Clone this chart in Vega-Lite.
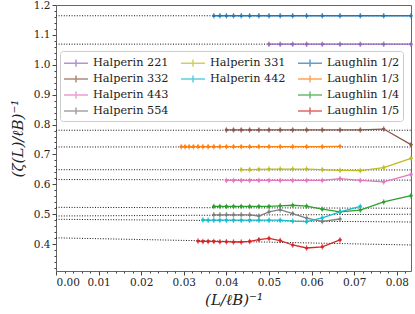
{
  "$schema": "https://vega.github.io/schema/vega-lite/v6.json",
  "width": 355,
  "height": 266,
  "autosize": {"type": "none"},
  "padding": {"left": 56, "top": 5, "right": 4, "bottom": 43},
  "config": {
    "font": "DejaVu Serif",
    "view": {"stroke": "#666", "strokeWidth": 1},
    "axis": {"domain": false, "grid": false, "tickColor": "#444", "labelColor": "#222", "labelFontSize": 10.5, "titleFontSize": 15, "titleFontWeight": "normal", "titleColor": "#222", "labelFont": "DejaVu Serif", "titleFont": "DejaVu Serif"}
  },
  "datasets": {
    "fits": [
      {"s": "Laughlin 1/2", "x": 0, "y": 1.164}, {"s": "Laughlin 1/2", "x": 0.08333, "y": 1.164},
      {"s": "Halperin 221", "x": 0, "y": 1.069}, {"s": "Halperin 221", "x": 0.08333, "y": 1.069},
      {"s": "Halperin 332", "x": 0, "y": 0.781}, {"s": "Halperin 332", "x": 0.08333, "y": 0.781},
      {"s": "Laughlin 1/3", "x": 0, "y": 0.725}, {"s": "Laughlin 1/3", "x": 0.08333, "y": 0.725},
      {"s": "Halperin 331", "x": 0, "y": 0.649}, {"s": "Halperin 331", "x": 0.08333, "y": 0.648},
      {"s": "Halperin 443", "x": 0, "y": 0.616}, {"s": "Halperin 443", "x": 0.08333, "y": 0.614},
      {"s": "Laughlin 1/4", "x": 0, "y": 0.523}, {"s": "Laughlin 1/4", "x": 0.08333, "y": 0.52},
      {"s": "Halperin 554", "x": 0, "y": 0.494}, {"s": "Halperin 554", "x": 0.08333, "y": 0.5},
      {"s": "Halperin 442", "x": 0, "y": 0.483}, {"s": "Halperin 442", "x": 0.08333, "y": 0.474},
      {"s": "Laughlin 1/5", "x": 0, "y": 0.421}, {"s": "Laughlin 1/5", "x": 0.08333, "y": 0.397}
    ],
    "pts": [
      {"s": "Laughlin 1/2", "x": 0.08333, "y": 1.164}, {"s": "Laughlin 1/2", "x": 0.07692, "y": 1.164}, {"s": "Laughlin 1/2", "x": 0.07143, "y": 1.164}, {"s": "Laughlin 1/2", "x": 0.06667, "y": 1.164}, {"s": "Laughlin 1/2", "x": 0.0625, "y": 1.164}, {"s": "Laughlin 1/2", "x": 0.05882, "y": 1.164}, {"s": "Laughlin 1/2", "x": 0.05556, "y": 1.164}, {"s": "Laughlin 1/2", "x": 0.05263, "y": 1.164}, {"s": "Laughlin 1/2", "x": 0.05, "y": 1.164}, {"s": "Laughlin 1/2", "x": 0.04762, "y": 1.164}, {"s": "Laughlin 1/2", "x": 0.04545, "y": 1.164}, {"s": "Laughlin 1/2", "x": 0.04348, "y": 1.164}, {"s": "Laughlin 1/2", "x": 0.04167, "y": 1.164}, {"s": "Laughlin 1/2", "x": 0.04, "y": 1.164}, {"s": "Laughlin 1/2", "x": 0.03846, "y": 1.164}, {"s": "Laughlin 1/2", "x": 0.03704, "y": 1.164},
      {"s": "Halperin 221", "x": 0.08333, "y": 1.069}, {"s": "Halperin 221", "x": 0.07692, "y": 1.069}, {"s": "Halperin 221", "x": 0.07143, "y": 1.069}, {"s": "Halperin 221", "x": 0.06667, "y": 1.069}, {"s": "Halperin 221", "x": 0.0625, "y": 1.069}, {"s": "Halperin 221", "x": 0.05882, "y": 1.069}, {"s": "Halperin 221", "x": 0.05556, "y": 1.069}, {"s": "Halperin 221", "x": 0.05263, "y": 1.069}, {"s": "Halperin 221", "x": 0.05, "y": 1.069},
      {"s": "Halperin 332", "x": 0.08333, "y": 0.733}, {"s": "Halperin 332", "x": 0.07692, "y": 0.785}, {"s": "Halperin 332", "x": 0.07143, "y": 0.782}, {"s": "Halperin 332", "x": 0.06667, "y": 0.782}, {"s": "Halperin 332", "x": 0.0625, "y": 0.782}, {"s": "Halperin 332", "x": 0.05882, "y": 0.782}, {"s": "Halperin 332", "x": 0.05556, "y": 0.782}, {"s": "Halperin 332", "x": 0.05263, "y": 0.782}, {"s": "Halperin 332", "x": 0.05, "y": 0.782}, {"s": "Halperin 332", "x": 0.04762, "y": 0.782}, {"s": "Halperin 332", "x": 0.04545, "y": 0.782}, {"s": "Halperin 332", "x": 0.04348, "y": 0.782}, {"s": "Halperin 332", "x": 0.04167, "y": 0.782}, {"s": "Halperin 332", "x": 0.04, "y": 0.782},
      {"s": "Laughlin 1/3", "x": 0.06667, "y": 0.727}, {"s": "Laughlin 1/3", "x": 0.0625, "y": 0.726}, {"s": "Laughlin 1/3", "x": 0.05882, "y": 0.726}, {"s": "Laughlin 1/3", "x": 0.05556, "y": 0.726}, {"s": "Laughlin 1/3", "x": 0.05263, "y": 0.726}, {"s": "Laughlin 1/3", "x": 0.05, "y": 0.726}, {"s": "Laughlin 1/3", "x": 0.04762, "y": 0.726}, {"s": "Laughlin 1/3", "x": 0.04545, "y": 0.726}, {"s": "Laughlin 1/3", "x": 0.04348, "y": 0.726}, {"s": "Laughlin 1/3", "x": 0.04167, "y": 0.726}, {"s": "Laughlin 1/3", "x": 0.04, "y": 0.726}, {"s": "Laughlin 1/3", "x": 0.03846, "y": 0.726}, {"s": "Laughlin 1/3", "x": 0.03704, "y": 0.726}, {"s": "Laughlin 1/3", "x": 0.03571, "y": 0.726}, {"s": "Laughlin 1/3", "x": 0.03448, "y": 0.726}, {"s": "Laughlin 1/3", "x": 0.03333, "y": 0.726}, {"s": "Laughlin 1/3", "x": 0.03226, "y": 0.726}, {"s": "Laughlin 1/3", "x": 0.03125, "y": 0.726}, {"s": "Laughlin 1/3", "x": 0.0303, "y": 0.726}, {"s": "Laughlin 1/3", "x": 0.02941, "y": 0.726},
      {"s": "Halperin 331", "x": 0.08333, "y": 0.687}, {"s": "Halperin 331", "x": 0.07692, "y": 0.656}, {"s": "Halperin 331", "x": 0.07143, "y": 0.646}, {"s": "Halperin 331", "x": 0.06667, "y": 0.647}, {"s": "Halperin 331", "x": 0.0625, "y": 0.649}, {"s": "Halperin 331", "x": 0.05882, "y": 0.651}, {"s": "Halperin 331", "x": 0.05556, "y": 0.651}, {"s": "Halperin 331", "x": 0.05263, "y": 0.651}, {"s": "Halperin 331", "x": 0.05, "y": 0.651}, {"s": "Halperin 331", "x": 0.04762, "y": 0.65}, {"s": "Halperin 331", "x": 0.04545, "y": 0.649}, {"s": "Halperin 331", "x": 0.04348, "y": 0.649},
      {"s": "Halperin 443", "x": 0.08333, "y": 0.633}, {"s": "Halperin 443", "x": 0.07692, "y": 0.608}, {"s": "Halperin 443", "x": 0.07143, "y": 0.613}, {"s": "Halperin 443", "x": 0.06667, "y": 0.619}, {"s": "Halperin 443", "x": 0.0625, "y": 0.613}, {"s": "Halperin 443", "x": 0.05882, "y": 0.613}, {"s": "Halperin 443", "x": 0.05556, "y": 0.613}, {"s": "Halperin 443", "x": 0.05263, "y": 0.613}, {"s": "Halperin 443", "x": 0.05, "y": 0.613}, {"s": "Halperin 443", "x": 0.04762, "y": 0.613}, {"s": "Halperin 443", "x": 0.04545, "y": 0.613}, {"s": "Halperin 443", "x": 0.04348, "y": 0.613}, {"s": "Halperin 443", "x": 0.04167, "y": 0.613}, {"s": "Halperin 443", "x": 0.04, "y": 0.613},
      {"s": "Laughlin 1/4", "x": 0.08333, "y": 0.562}, {"s": "Laughlin 1/4", "x": 0.07692, "y": 0.541}, {"s": "Laughlin 1/4", "x": 0.07143, "y": 0.514}, {"s": "Laughlin 1/4", "x": 0.06667, "y": 0.508}, {"s": "Laughlin 1/4", "x": 0.0625, "y": 0.517}, {"s": "Laughlin 1/4", "x": 0.05882, "y": 0.527}, {"s": "Laughlin 1/4", "x": 0.05556, "y": 0.53}, {"s": "Laughlin 1/4", "x": 0.05263, "y": 0.528}, {"s": "Laughlin 1/4", "x": 0.05, "y": 0.526}, {"s": "Laughlin 1/4", "x": 0.04762, "y": 0.526}, {"s": "Laughlin 1/4", "x": 0.04545, "y": 0.526}, {"s": "Laughlin 1/4", "x": 0.04348, "y": 0.526}, {"s": "Laughlin 1/4", "x": 0.04167, "y": 0.526}, {"s": "Laughlin 1/4", "x": 0.04, "y": 0.526}, {"s": "Laughlin 1/4", "x": 0.03846, "y": 0.526}, {"s": "Laughlin 1/4", "x": 0.03704, "y": 0.526},
      {"s": "Halperin 554", "x": 0.06667, "y": 0.484}, {"s": "Halperin 554", "x": 0.0625, "y": 0.476}, {"s": "Halperin 554", "x": 0.05882, "y": 0.487}, {"s": "Halperin 554", "x": 0.05556, "y": 0.502}, {"s": "Halperin 554", "x": 0.05263, "y": 0.515}, {"s": "Halperin 554", "x": 0.05, "y": 0.508}, {"s": "Halperin 554", "x": 0.04762, "y": 0.494}, {"s": "Halperin 554", "x": 0.04545, "y": 0.498}, {"s": "Halperin 554", "x": 0.04348, "y": 0.498}, {"s": "Halperin 554", "x": 0.04167, "y": 0.498}, {"s": "Halperin 554", "x": 0.04, "y": 0.498}, {"s": "Halperin 554", "x": 0.03846, "y": 0.498}, {"s": "Halperin 554", "x": 0.03704, "y": 0.498},
      {"s": "Halperin 442", "x": 0.07143, "y": 0.526}, {"s": "Halperin 442", "x": 0.06667, "y": 0.508}, {"s": "Halperin 442", "x": 0.0625, "y": 0.488}, {"s": "Halperin 442", "x": 0.05882, "y": 0.475}, {"s": "Halperin 442", "x": 0.05556, "y": 0.477}, {"s": "Halperin 442", "x": 0.05263, "y": 0.48}, {"s": "Halperin 442", "x": 0.05, "y": 0.48}, {"s": "Halperin 442", "x": 0.04762, "y": 0.48}, {"s": "Halperin 442", "x": 0.04545, "y": 0.48}, {"s": "Halperin 442", "x": 0.04348, "y": 0.48}, {"s": "Halperin 442", "x": 0.04167, "y": 0.48}, {"s": "Halperin 442", "x": 0.04, "y": 0.48}, {"s": "Halperin 442", "x": 0.03846, "y": 0.48}, {"s": "Halperin 442", "x": 0.03704, "y": 0.48}, {"s": "Halperin 442", "x": 0.03571, "y": 0.48}, {"s": "Halperin 442", "x": 0.03448, "y": 0.481},
      {"s": "Laughlin 1/5", "x": 0.06667, "y": 0.414}, {"s": "Laughlin 1/5", "x": 0.0625, "y": 0.391}, {"s": "Laughlin 1/5", "x": 0.05882, "y": 0.387}, {"s": "Laughlin 1/5", "x": 0.05556, "y": 0.397}, {"s": "Laughlin 1/5", "x": 0.05263, "y": 0.412}, {"s": "Laughlin 1/5", "x": 0.05, "y": 0.419}, {"s": "Laughlin 1/5", "x": 0.04762, "y": 0.415}, {"s": "Laughlin 1/5", "x": 0.04545, "y": 0.409}, {"s": "Laughlin 1/5", "x": 0.04348, "y": 0.407}, {"s": "Laughlin 1/5", "x": 0.04167, "y": 0.407}, {"s": "Laughlin 1/5", "x": 0.04, "y": 0.408}, {"s": "Laughlin 1/5", "x": 0.03846, "y": 0.408}, {"s": "Laughlin 1/5", "x": 0.03704, "y": 0.409}, {"s": "Laughlin 1/5", "x": 0.03571, "y": 0.409}, {"s": "Laughlin 1/5", "x": 0.03448, "y": 0.409}, {"s": "Laughlin 1/5", "x": 0.03333, "y": 0.41}
    ]
  },
  "layer": [
    {
      "data": {"name": "fits"},
      "mark": {"type": "line", "color": "#111", "strokeWidth": 1, "strokeDash": [1, 1.6]},
      "encoding": {
        "x": {"field": "x", "type": "quantitative", "scale": {"domain": [0, 0.08333], "nice": false, "zero": false},
          "axis": {"orient": "bottom", "title": "(L/ℓB)⁻¹", "values": [0, 0.01, 0.02, 0.03, 0.04, 0.05, 0.06, 0.07, 0.08], "format": ".2f", "tickSize": 4, "labelPadding": 2, "titlePadding": 5, "titleFontStyle": "italic"}},
        "y": {"field": "y", "type": "quantitative", "scale": {"domain": [0.31, 1.2], "nice": false, "zero": false},
          "axis": {"orient": "left", "title": "(ζ(L)/ℓB)⁻¹", "values": [0.4, 0.5, 0.6, 0.7, 0.8, 0.9, 1.0, 1.1, 1.2], "format": ".1f", "tickSize": 4, "labelPadding": 2, "titlePadding": 8, "titleFontStyle": "italic"}},
        "detail": {"field": "s", "type": "nominal"}
      }
    },
    {
      "data": {"name": "pts"},
      "mark": {"type": "line", "strokeWidth": 1.3},
      "encoding": {
        "x": {"field": "x", "type": "quantitative", "scale": {"domain": [0, 0.08333], "nice": false, "zero": false},
          "axis": {"orient": "bottom", "title": null, "labels": false, "tickSize": 2, "values": [0.002, 0.004, 0.006, 0.008, 0.012, 0.014, 0.016, 0.018, 0.022, 0.024, 0.026, 0.028, 0.032, 0.034, 0.036, 0.038, 0.042, 0.044, 0.046, 0.048, 0.052, 0.054, 0.056, 0.058, 0.062, 0.064, 0.066, 0.068, 0.072, 0.074, 0.076, 0.078, 0.082]}},
        "y": {"field": "y", "type": "quantitative", "scale": {"domain": [0.31, 1.2], "nice": false, "zero": false},
          "axis": {"orient": "left", "title": null, "labels": false, "tickSize": 2, "values": [0.32, 0.34, 0.36, 0.38, 0.42, 0.44, 0.46, 0.48, 0.52, 0.54, 0.56, 0.58, 0.62, 0.64, 0.66, 0.68, 0.72, 0.74, 0.76, 0.78, 0.82, 0.84, 0.86, 0.88, 0.92, 0.94, 0.96, 0.98, 1.02, 1.04, 1.06, 1.08, 1.12, 1.14, 1.16, 1.18]}},
        "color": {"field": "s", "type": "nominal",
          "scale": {"domain": ["Halperin 221", "Halperin 332", "Halperin 443", "Halperin 554", "Halperin 331", "Halperin 442", "_b1", "_b2", "Laughlin 1/2", "Laughlin 1/3", "Laughlin 1/4", "Laughlin 1/5"],
                    "range": ["#9467bd", "#8c564b", "#e377c2", "#7f7f7f", "#bcbd22", "#17becf", "rgba(0,0,0,0)", "rgba(0,0,0,0)", "#1f77b4", "#ff7f0e", "#2ca02c", "#d62728"]},
          "legend": {"orient": "none", "legendX": 4, "legendY": 46, "columns": 3, "title": null,
            "symbolType": "M-1.5,0H1.5M0,-0.45V0.45", "symbolSize": 256, "symbolStrokeWidth": 1.5, "symbolOffset": 4,
            "labelFontSize": 11.3, "labelFont": "DejaVu Serif", "labelColor": "#222", "labelOffset": 8,
            "columnPadding": 9, "rowPadding": 0, "padding": 3, "strokeColor": "#ccc", "fillColor": "rgba(255,255,255,0.85)", "cornerRadius": 3,
            "labelExpr": "indexof(datum.label, '_') == 0 ? '' : datum.label"}}
      }
    },
    {
      "data": {"name": "pts"},
      "mark": {"type": "point", "shape": "M0,-1V1M-0.6,0H0.6", "size": 30, "strokeWidth": 1.2, "filled": false},
      "encoding": {
        "x": {"field": "x", "type": "quantitative", "axis": null},
        "y": {"field": "y", "type": "quantitative", "axis": null},
        "color": {"field": "s", "type": "nominal"}
      }
    },
    {
      "data": {"name": "pts"},
      "mark": {"type": "circle", "size": 10, "opacity": 1},
      "encoding": {
        "x": {"field": "x", "type": "quantitative", "axis": null},
        "y": {"field": "y", "type": "quantitative", "axis": null},
        "color": {"field": "s", "type": "nominal"}
      }
    }
  ],
  "resolve": {"axis": {"x": "independent", "y": "independent"}}
}
